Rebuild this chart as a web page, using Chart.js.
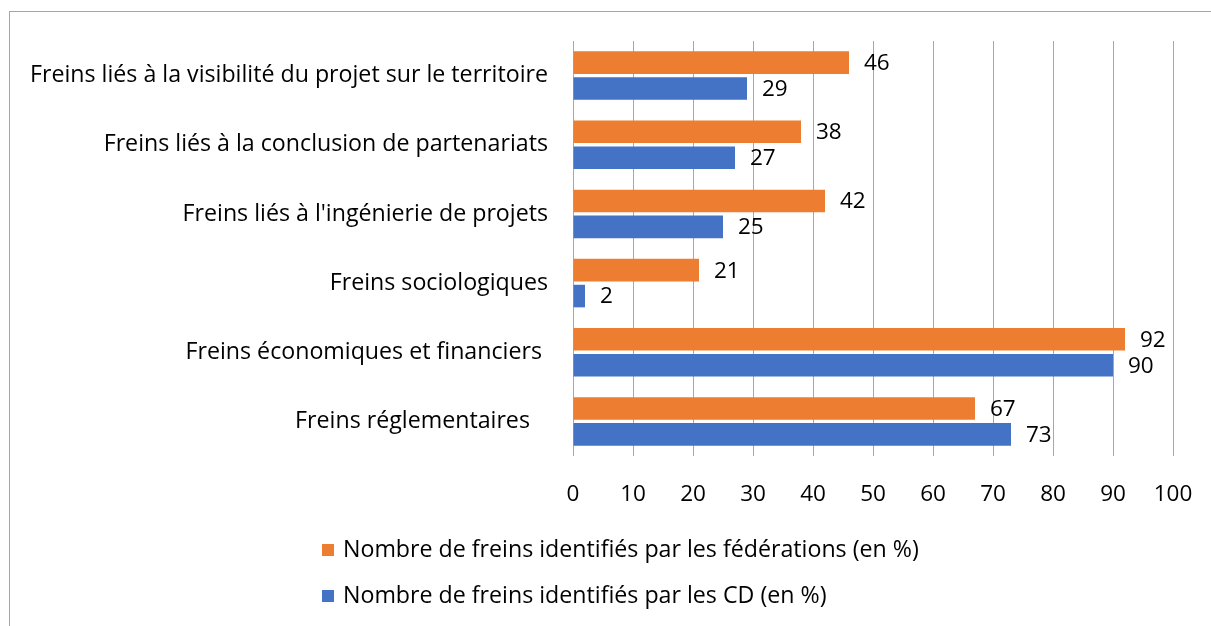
<!DOCTYPE html>
<html>
<head>
<meta charset="utf-8">
<script src="https://cdn.jsdelivr.net/npm/chart.js@4"></script>
<style>
  html, body { margin:0; padding:0; background:#fff; overflow:hidden; }
  #wrap { position:relative; width:1211px; height:626px; }
  #frame { position:absolute; left:9px; top:11px; width:1400px; height:800px; border:1px solid #a6a6a6; box-sizing:border-box; }
  canvas { position:absolute; left:0; top:0; }
  .leg { position:absolute; left:322px; font-family:'Open Sans', sans-serif; font-size:23.2px; color:#000; white-space:nowrap; line-height:26px; }
  .leg span.sw { display:inline-block; width:12px; height:12px; margin-right:9px; vertical-align:1px; }
</style>
</head>
<body>
<div id="wrap">
  <div id="frame"></div>
  <canvas id="c" width="1211" height="626"></canvas>
  <div class="leg" id="leg1" style="top:535px"><span class="sw" style="background:#ED7D31"></span>Nombre de freins identifiés par les fédérations (en %)</div>
  <div class="leg" id="leg2" style="top:581px"><span class="sw" style="background:#4472C4"></span>Nombre de freins identifiés par les CD (en %)</div>
</div>
<script>
const categories = [
  "Freins liés à la visibilité du projet sur le territoire",
  "Freins liés à la conclusion de partenariats",
  "Freins liés à l'ingénierie de projets",
  "Freins sociologiques",
  "Freins économiques et financiers ",
  "Freins réglementaires   "
];
const federations = [46, 38, 42, 21, 92, 67];
const cd = [29, 27, 25, 2, 90, 73];
const seriesNames = [
  "Nombre de freins identifiés par les fédérations (en %)",
  "Nombre de freins identifiés par les CD (en %)"
];
const xTicksMin = 0, xTicksMax = 100, xTicksStep = 10;

const FONT = "'Open Sans', sans-serif";

const valueLabels = {
  id: 'valueLabels',
  afterDatasetsDraw(chart) {
    const ctx = chart.ctx;
    ctx.save();
    ctx.font = "22.5px " + FONT;
    ctx.fillStyle = "#000";
    ctx.textAlign = "left";
    ctx.textBaseline = "middle";
    chart.data.datasets.forEach((ds, i) => {
      const meta = chart.getDatasetMeta(i);
      meta.data.forEach((el, j) => {
        ctx.fillText(String(ds.data[j]), el.x + 15, el.y + 1);
      });
    });
    ctx.restore();
  }
};

new Chart(document.getElementById('c'), {
  type: 'bar',
  data: {
    labels: categories,
    datasets: [
      { label: seriesNames[0], data: federations, backgroundColor: '#ED7D31' },
      { label: seriesNames[1], data: cd, backgroundColor: '#4472C4' }
    ]
  },
  options: {
    indexAxis: 'y',
    responsive: false,
    animation: false,
    devicePixelRatio: 1,
    categoryPercentage: 0.75,
    barPercentage: 0.87,
    layout: { padding: { left: 0, right: 38, top: 41, bottom: 110 } },
    plugins: { legend: { display: false }, tooltip: { enabled: false } },
    scales: {
      x: {
        min: xTicksMin, max: xTicksMax,
        ticks: { stepSize: xTicksStep, padding: 25, color: '#000', font: { family: FONT, size: 22.5 } },
        grid: { color: '#a8a8a8', lineWidth: 1, drawTicks: false },
        border: { display: false },
        afterFit(s) { s.height = 60; s.paddingRight = 0; s.paddingLeft = 0; }
      },
      y: {
        ticks: { padding: 25, color: '#000', font: { family: FONT, size: 23.2 } },
        grid: { display: false, drawTicks: false },
        border: { display: false },
        afterFit(s) { s.width = 573; }
      }
    }
  },
  plugins: [valueLabels]
});
</script>
</body>
</html>
